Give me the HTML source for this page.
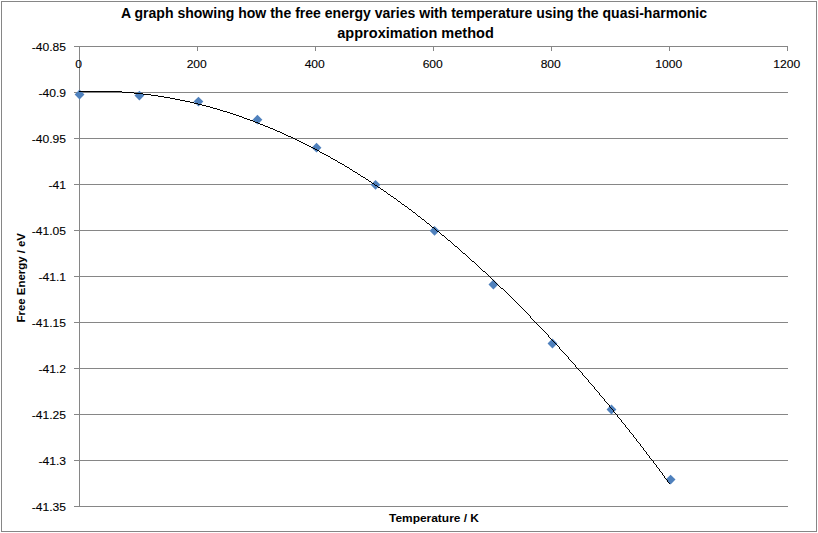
<!DOCTYPE html>
<html><head><meta charset="utf-8">
<style>
html,body{margin:0;padding:0;background:#fff;}
svg{display:block;}
text{font-family:"Liberation Sans", sans-serif;}
</style></head>
<body>
<svg width="818" height="533" viewBox="0 0 818 533">
<rect x="0" y="0" width="818" height="533" fill="#fff"/>
<rect x="1.5" y="1.5" width="815" height="530" fill="none" stroke="#868686" stroke-width="1"/>
<g stroke="#868686" stroke-width="1" shape-rendering="crispEdges">
<line x1="74" y1="46.5" x2="787.5" y2="46.5"/>
<line x1="74" y1="92.5" x2="787.5" y2="92.5"/>
<line x1="74" y1="138.5" x2="787.5" y2="138.5"/>
<line x1="74" y1="184.5" x2="787.5" y2="184.5"/>
<line x1="74" y1="230.5" x2="787.5" y2="230.5"/>
<line x1="74" y1="276.5" x2="787.5" y2="276.5"/>
<line x1="74" y1="322.5" x2="787.5" y2="322.5"/>
<line x1="74" y1="368.5" x2="787.5" y2="368.5"/>
<line x1="74" y1="414.5" x2="787.5" y2="414.5"/>
<line x1="74" y1="460.5" x2="787.5" y2="460.5"/>
<line x1="74" y1="506.5" x2="787.5" y2="506.5"/>
<line x1="79.5" y1="46" x2="79.5" y2="507"/>
<line x1="79.5" y1="46" x2="79.5" y2="51"/>
<line x1="197.5" y1="46" x2="197.5" y2="51"/>
<line x1="315.5" y1="46" x2="315.5" y2="51"/>
<line x1="433.5" y1="46" x2="433.5" y2="51"/>
<line x1="551.5" y1="46" x2="551.5" y2="51"/>
<line x1="669.5" y1="46" x2="669.5" y2="51"/>
<line x1="787.5" y1="46" x2="787.5" y2="51"/>
</g>
<g fill="#4F81BD">
<path d="M79.55,89.60 L84.45,94.50 L79.55,99.40 L74.65,94.50Z"/>
<path d="M139.40,90.65 L144.30,95.55 L139.40,100.45 L134.50,95.55Z"/>
<path d="M198.45,96.70 L203.35,101.60 L198.45,106.50 L193.55,101.60Z"/>
<path d="M257.46,114.73 L262.36,119.63 L257.46,124.53 L252.56,119.63Z"/>
<path d="M316.55,142.73 L321.45,147.63 L316.55,152.53 L311.65,147.63Z"/>
<path d="M375.55,179.90 L380.45,184.80 L375.55,189.70 L370.65,184.80Z"/>
<path d="M434.55,225.97 L439.45,230.87 L434.55,235.77 L429.65,230.87Z"/>
<path d="M493.40,279.60 L498.30,284.50 L493.40,289.40 L488.50,284.50Z"/>
<path d="M552.46,338.60 L557.36,343.50 L552.46,348.40 L547.56,343.50Z"/>
<path d="M611.46,404.60 L616.36,409.50 L611.46,414.40 L606.56,409.50Z"/>
<path d="M670.60,474.70 L675.50,479.60 L670.60,484.50 L665.70,479.60Z"/>
</g>
<path d="M79 91h43v1h-43zM122 92h12v1h-12zM134 93h9v1h-9zM143 94h8v1h-8zM151 95h7v1h-7zM158 96h6v1h-6zM164 97h6v1h-6zM170 98h5v1h-5zM175 99h5v1h-5zM180 100h5v1h-5zM185 101h5v1h-5zM190 102h4v1h-4zM194 103h4v1h-4zM198 104h4v1h-4zM202 105h4v1h-4zM206 106h4v1h-4zM210 107h3v1h-3zM213 108h4v1h-4zM217 109h3v1h-3zM220 110h3v1h-3zM223 111h4v1h-4zM227 112h3v1h-3zM230 113h3v1h-3zM233 114h3v1h-3zM236 115h3v1h-3zM239 116h3v1h-3zM242 117h2v1h-2zM244 118h3v1h-3zM247 119h3v1h-3zM250 120h3v1h-3zM253 121h2v1h-2zM255 122h3v1h-3zM258 123h2v1h-2zM260 124h3v1h-3zM263 125h2v1h-2zM265 126h3v1h-3zM268 127h2v1h-2zM270 128h3v1h-3zM273 129h2v1h-2zM275 130h2v1h-2zM277 131h3v1h-3zM280 132h2v1h-2zM282 133h2v1h-2zM284 134h2v1h-2zM286 135h2v1h-2zM288 136h3v1h-3zM291 137h2v1h-2zM293 138h2v1h-2zM295 139h2v1h-2zM297 140h2v1h-2zM299 141h2v1h-2zM301 142h2v1h-2zM303 143h2v1h-2zM305 144h2v1h-2zM307 145h2v1h-2zM309 146h2v1h-2zM311 147h2v1h-2zM313 148h2v1h-2zM315 149h2v1h-2zM317 150h2v1h-2zM319 151h1v1h-1zM320 152h2v1h-2zM322 153h2v1h-2zM324 154h2v1h-2zM326 155h2v1h-2zM328 156h2v1h-2zM330 157h1v1h-1zM331 158h2v1h-2zM333 159h2v1h-2zM335 160h2v1h-2zM337 161h1v1h-1zM338 162h2v1h-2zM340 163h2v1h-2zM342 164h2v1h-2zM344 165h1v1h-1zM345 166h2v1h-2zM347 167h2v1h-2zM349 168h1v1h-1zM350 169h2v1h-2zM352 170h1v1h-1zM353 171h2v1h-2zM355 172h2v1h-2zM357 173h1v1h-1zM358 174h2v1h-2zM360 175h1v1h-1zM361 176h2v1h-2zM363 177h2v1h-2zM365 178h1v1h-1zM366 179h2v1h-2zM368 180h1v1h-1zM369 181h2v1h-2zM371 182h1v1h-1zM372 183h2v1h-2zM374 184h1v1h-1zM375 185h2v1h-2zM377 186h1v1h-1zM378 187h2v1h-2zM380 188h1v1h-1zM381 189h2v1h-2zM383 190h1v1h-1zM384 191h2v1h-2zM386 192h1v1h-1zM387 193h1v1h-1zM388 194h2v1h-2zM390 195h1v1h-1zM391 196h2v1h-2zM393 197h1v1h-1zM394 198h2v1h-2zM396 199h1v1h-1zM397 200h1v1h-1zM398 201h2v1h-2zM400 202h1v1h-1zM401 203h1v1h-1zM402 204h2v1h-2zM404 205h1v1h-1zM405 206h2v1h-2zM407 207h1v1h-1zM408 208h1v1h-1zM409 209h2v1h-2zM411 210h1v1h-1zM412 211h1v1h-1zM413 212h2v1h-2zM415 213h1v1h-1zM416 214h1v1h-1zM417 215h1v1h-1zM418 216h2v1h-2zM420 217h1v1h-1zM421 218h1v1h-1zM422 219h2v1h-2zM424 220h1v1h-1zM425 221h1v1h-1zM426 222h1v1h-1zM427 223h2v1h-2zM429 224h1v1h-1zM430 225h1v1h-1zM431 226h1v1h-1zM432 227h2v1h-2zM434 228h1v1h-1zM435 229h1v1h-1zM436 230h1v1h-1zM437 231h2v1h-2zM439 232h1v1h-1zM440 233h1v1h-1zM441 234h1v1h-1zM442 235h2v1h-2zM444 236h1v1h-1zM445 237h1v1h-1zM446 238h1v1h-1zM447 239h1v1h-1zM448 240h2v1h-2zM450 241h1v1h-1zM451 242h1v1h-1zM452 243h1v1h-1zM453 244h1v1h-1zM454 245h1v1h-1zM455 246h2v1h-2zM457 247h1v1h-1zM458 248h1v1h-1zM459 249h1v1h-1zM460 250h1v1h-1zM461 251h1v1h-1zM462 252h1v1h-1zM463 253h2v1h-2zM465 254h1v1h-1zM466 255h1v1h-1zM467 256h1v1h-1zM468 257h1v1h-1zM469 258h1v1h-1zM470 259h1v1h-1zM471 260h1v1h-1zM472 261h2v1h-2zM474 262h1v1h-1zM475 263h1v1h-1zM476 264h1v1h-1zM477 265h1v1h-1zM478 266h1v1h-1zM479 267h1v1h-1zM480 268h1v1h-1zM481 269h1v1h-1zM482 270h1v1h-1zM483 271h2v1h-2zM485 272h1v1h-1zM486 273h1v1h-1zM487 274h1v1h-1zM488 275h1v1h-1zM489 276h1v1h-1zM490 277h1v1h-1zM491 278h1v1h-1zM492 279h1v1h-1zM493 280h1v1h-1zM494 281h1v1h-1zM495 282h1v1h-1zM496 283h1v1h-1zM497 284h1v1h-1zM498 285h1v1h-1zM499 286h1v1h-1zM500 287h1v1h-1zM501 288h2v1h-2zM503 289h1v1h-1zM504 290h1v1h-1zM505 291h1v1h-1zM506 292h1v1h-1zM507 293h1v1h-1zM508 294h1v1h-1zM509 295h1v1h-1zM510 296h1v1h-1zM511 297h1v1h-1zM512 298h1v1h-1zM513 299h1v1h-1zM514 300h1v1h-1zM515 301h1v1h-1zM516 302h1v1h-1zM517 303h1v1h-1zM518 304h1v1h-1zM519 305h1v1h-1zM520 306h1v1h-1zM521 307h1v1h-1zM522 308h1v1h-1zM523 309h1v1h-1zM524 310h1v1h-1zM525 311h1v1h-1zM526 312h1v1h-1zM527 313h1v1h-1zM528 314h1v1h-1zM529 315h1v1h-1zM530 316h1v1h-1zM530 317h1v1h-1zM531 318h1v1h-1zM532 319h1v1h-1zM533 320h1v1h-1zM534 321h1v1h-1zM535 322h1v1h-1zM536 323h1v1h-1zM537 324h1v1h-1zM538 325h1v1h-1zM539 326h1v1h-1zM540 327h1v1h-1zM541 328h1v1h-1zM542 329h1v1h-1zM543 330h1v1h-1zM544 331h1v1h-1zM545 332h1v1h-1zM546 333h1v1h-1zM547 334h1v1h-1zM548 335h1v1h-1zM548 336h1v1h-1zM549 337h1v1h-1zM550 338h1v1h-1zM551 339h1v1h-1zM552 340h1v1h-1zM553 341h1v1h-1zM554 342h1v1h-1zM555 343h1v1h-1zM556 344h1v1h-1zM557 345h1v1h-1zM558 346h1v1h-1zM559 347h1v1h-1zM559 348h1v1h-1zM560 349h1v1h-1zM561 350h1v1h-1zM562 351h1v1h-1zM563 352h1v1h-1zM564 353h1v1h-1zM565 354h1v1h-1zM566 355h1v1h-1zM567 356h1v1h-1zM568 357h1v1h-1zM568 358h1v1h-1zM569 359h1v1h-1zM570 360h1v1h-1zM571 361h1v1h-1zM572 362h1v1h-1zM573 363h1v1h-1zM574 364h1v1h-1zM575 365h1v1h-1zM575 366h1v1h-1zM576 367h1v1h-1zM577 368h1v1h-1zM578 369h1v1h-1zM579 370h1v1h-1zM580 371h1v1h-1zM581 372h1v1h-1zM582 373h1v1h-1zM582 374h1v1h-1zM583 375h1v1h-1zM584 376h1v1h-1zM585 377h1v1h-1zM586 378h1v1h-1zM587 379h1v1h-1zM588 380h1v1h-1zM588 381h1v1h-1zM589 382h1v1h-1zM590 383h1v1h-1zM591 384h1v1h-1zM592 385h1v1h-1zM593 386h1v1h-1zM594 387h1v1h-1zM594 388h1v1h-1zM595 389h1v1h-1zM596 390h1v1h-1zM597 391h1v1h-1zM598 392h1v1h-1zM599 393h1v1h-1zM599 394h1v1h-1zM600 395h1v1h-1zM601 396h1v1h-1zM602 397h1v1h-1zM603 398h1v1h-1zM604 399h1v1h-1zM604 400h1v1h-1zM605 401h1v1h-1zM606 402h1v1h-1zM607 403h1v1h-1zM608 404h1v1h-1zM609 405h1v1h-1zM609 406h1v1h-1zM610 407h1v1h-1zM611 408h1v1h-1zM612 409h1v1h-1zM613 410h1v1h-1zM613 411h1v1h-1zM614 412h1v1h-1zM615 413h1v1h-1zM616 414h1v1h-1zM617 415h1v1h-1zM617 416h1v1h-1zM618 417h1v1h-1zM619 418h1v1h-1zM620 419h1v1h-1zM621 420h1v1h-1zM621 421h1v1h-1zM622 422h1v1h-1zM623 423h1v1h-1zM624 424h1v1h-1zM625 425h1v1h-1zM625 426h1v1h-1zM626 427h1v1h-1zM627 428h1v1h-1zM628 429h1v1h-1zM629 430h1v1h-1zM629 431h1v1h-1zM630 432h1v1h-1zM631 433h1v1h-1zM632 434h1v1h-1zM633 435h1v1h-1zM633 436h1v1h-1zM634 437h1v1h-1zM635 438h1v1h-1zM636 439h1v1h-1zM636 440h1v1h-1zM637 441h1v1h-1zM638 442h1v1h-1zM639 443h1v1h-1zM640 444h1v1h-1zM640 445h1v1h-1zM641 446h1v1h-1zM642 447h1v1h-1zM643 448h1v1h-1zM643 449h1v1h-1zM644 450h1v1h-1zM645 451h1v1h-1zM646 452h1v1h-1zM646 453h1v1h-1zM647 454h1v1h-1zM648 455h1v1h-1zM649 456h1v1h-1zM649 457h1v1h-1zM650 458h1v1h-1zM651 459h1v1h-1zM652 460h1v1h-1zM653 461h1v1h-1zM653 462h1v1h-1zM654 463h1v1h-1zM655 464h1v1h-1zM656 465h1v1h-1zM656 466h1v1h-1zM657 467h1v1h-1zM658 468h1v1h-1zM659 469h1v1h-1zM659 470h1v1h-1zM660 471h1v1h-1zM661 472h1v1h-1zM662 473h1v1h-1zM662 474h1v1h-1zM663 475h1v1h-1zM664 476h1v1h-1zM664 477h1v1h-1zM665 478h1v1h-1zM666 479h1v1h-1zM667 480h1v1h-1zM667 481h1v1h-1zM668 482h1v1h-1zM669 483h1v1h-1z" fill="#000" shape-rendering="crispEdges"/>
<g font-size="11" fill="#000" stroke="#000" stroke-width="0.1">
<text transform="translate(66,51) scale(1.1,1)" text-anchor="end">-40.85</text>
<text transform="translate(66,97) scale(1.1,1)" text-anchor="end">-40.9</text>
<text transform="translate(66,143) scale(1.1,1)" text-anchor="end">-40.95</text>
<text transform="translate(66,189) scale(1.1,1)" text-anchor="end">-41</text>
<text transform="translate(66,235) scale(1.1,1)" text-anchor="end">-41.05</text>
<text transform="translate(66,281) scale(1.1,1)" text-anchor="end">-41.1</text>
<text transform="translate(66,327) scale(1.1,1)" text-anchor="end">-41.15</text>
<text transform="translate(66,373) scale(1.1,1)" text-anchor="end">-41.2</text>
<text transform="translate(66,419) scale(1.1,1)" text-anchor="end">-41.25</text>
<text transform="translate(66,465) scale(1.1,1)" text-anchor="end">-41.3</text>
<text transform="translate(66,511) scale(1.1,1)" text-anchor="end">-41.35</text>
<text transform="translate(78.7,68) scale(1.1,1)" text-anchor="middle">0</text>
<text transform="translate(196.7,68) scale(1.1,1)" text-anchor="middle">200</text>
<text transform="translate(314.7,68) scale(1.1,1)" text-anchor="middle">400</text>
<text transform="translate(432.7,68) scale(1.1,1)" text-anchor="middle">600</text>
<text transform="translate(550.7,68) scale(1.1,1)" text-anchor="middle">800</text>
<text transform="translate(668.7,68) scale(1.1,1)" text-anchor="middle">1000</text>
<text transform="translate(786.7,68) scale(1.1,1)" text-anchor="middle">1200</text>
</g>
<g font-size="14.5" font-weight="bold" fill="#000">
<text x="121" y="18" textLength="586" lengthAdjust="spacingAndGlyphs">A graph showing how the free energy varies with temperature using the quasi-harmonic</text>
<text x="337.3" y="37.7" textLength="156.5" lengthAdjust="spacingAndGlyphs">approximation method</text>
</g>
<g font-size="11" font-weight="bold" fill="#000">
<text x="389" y="522" textLength="90" lengthAdjust="spacingAndGlyphs">Temperature / K</text>
<text transform="translate(25,322.5) rotate(-90)" x="0" y="0" textLength="89.5" lengthAdjust="spacingAndGlyphs">Free Energy / eV</text>
</g>
</svg>
</body></html>
